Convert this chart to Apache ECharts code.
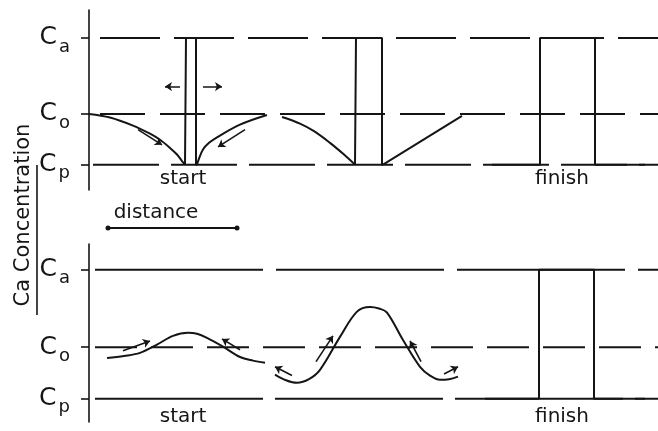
<!DOCTYPE html>
<html>
<head>
<meta charset="utf-8">
<script src="https://cdn.jsdelivr.net/npm/echarts@6/dist/echarts.min.js"></script>
<style>
  html, body { margin: 0; padding: 0; background: #fff; }
  #chart { width: 658px; height: 431px; }
</style>
</head>
<body>
<div id="chart"></div>
<script>
// levels on the concentration axis (Cp, Co, Ca)
var levelValues = [0, 1, 2.5];
var levelSubs = ['p', 'o', 'a'];

// upper panel: distance / concentration
var topLeftCurve = [[0, 1], [21, 0.93], [44, 0.77], [61, 0.61], [71, 0.49], [81, 0.33], [88, 0.2], [93, 0.07], [96, 0]];
var topPulse1 = [[96, 0], [97, 0], [97, 2.5], [107, 2.5], [107, 0], [108, 0]];
var topRightCurve = [[108, 0], [110, 0.12], [114, 0.3], [120, 0.43], [128, 0.54], [151, 0.79], [178, 0.98]];
var topMidCurve = [[193, 0.94], [211, 0.81], [225, 0.66], [241, 0.43], [255, 0.2], [266, 0]];
var topPulse2 = [[266, 0], [267, 0], [267, 2.5], [293, 2.5], [293, 0], [294, 0]];
var topRamp = [[294, 0], [373, 0.96]];
var topFinish = [[403, 0], [451, 0], [451, 2.5], [506, 2.5], [506, 0], [556, 0]];

// lower panel
var botCurveA = [[18, 0.79], [35, 0.83], [51, 0.89], [68, 1.05], [84, 1.22], [99, 1.28], [108, 1.26], [118, 1.18], [134, 1.01], [151, 0.81], [164, 0.74], [176, 0.7]];
var botCurveB = [[186, 0.47], [197, 0.36], [208, 0.31], [220, 0.38], [231, 0.56], [251, 1.2], [268, 1.69], [281, 1.78], [290, 1.75], [298, 1.67], [314, 1.14], [331, 0.62], [341, 0.45], [351, 0.37], [360, 0.38], [369, 0.43]];
var botFinish = [[396, 0], [450, 0], [450, 2.5], [505, 2.5], [505, 0], [556, 0]];

// small direction arrows [from, to]
var topArrows = [[[91, 1.54], [76, 1.54]], [[114, 1.54], [133, 1.54]], [[49, 0.69], [73, 0.39]], [[156, 0.69], [129, 0.35]]];
var botArrows = [[[34, 0.93], [61, 1.12]], [[151, 0.95], [133, 1.16]], [[203, 0.45], [186, 0.62]], [[227, 0.72], [244, 1.22]], [[332, 0.72], [321, 1.12]], [[355, 0.48], [369, 0.62]]];

// start / finish notes
var topNotes = [['start', 94, -0.28], ['finish', 473, -0.28]];
var botNotes = [['start', 94, -0.35], ['finish', 473, -0.35]];

var ink = '#151515';
var font = 'DejaVu Sans';
var xMax = 569;

var myChart = echarts.init(document.getElementById('chart'));

function curve(data, g, smooth) {
    return {
        type: 'line', xAxisIndex: g, yAxisIndex: g, data: data,
        smooth: smooth ? 0.35 : false, symbol: 'none', silent: true, clip: false,
        lineStyle: {color: ink, width: 2}
    };
}

function guide(level, g, start, dash, offset) {
    return {
        type: 'line', xAxisIndex: g, yAxisIndex: g, symbol: 'none', silent: true,
        data: [[start, level], [xMax, level]],
        lineStyle: {color: ink, width: 2, type: dash, dashOffset: offset || 0}
    };
}

function arrows(list, g) {
    return {
        type: 'lines', coordinateSystem: 'cartesian2d', xAxisIndex: g, yAxisIndex: g,
        symbol: ['none', 'arrow'], symbolSize: 7, silent: true,
        lineStyle: {color: ink, width: 1.6, opacity: 1, curveness: 0},
        data: list.map(function (a) { return {coords: a}; })
    };
}

function notes(list, g) {
    return {
        type: 'scatter', xAxisIndex: g, yAxisIndex: g, symbolSize: 0, silent: true,
        itemStyle: {opacity: 1},
        data: list.map(function (n) { return {name: n[0], value: [n[1], n[2]]}; }),
        label: {show: true, position: 'inside', formatter: '{b}', color: ink, opacity: 1, fontSize: 20, fontFamily: font}
    };
}

function yAxis(g, min, max) {
    return {
        type: 'value', gridIndex: g, min: min, max: max,
        axisLine: {show: true, lineStyle: {color: ink, width: 1.6}},
        splitLine: {show: false},
        axisTick: {show: true, customValues: levelValues, length: 8, lineStyle: {color: ink, width: 1.6}},
        axisLabel: {
            show: true, customValues: levelValues, margin: 19,
            formatter: function (v) {
                var i = levelValues.indexOf(v);
                return '{c|C}{s|' + levelSubs[i] + '}';
            },
            rich: {
                c: {fontSize: 25, fontFamily: font, color: ink},
                s: {fontSize: 18, fontFamily: font, color: ink, padding: [18, 0, 0, 2]}
            }
        }
    };
}

var option = {
    backgroundColor: '#fff',
    animation: false,
    grid: [
        {left: 89, top: 10, width: xMax, height: 180},
        {left: 89, top: 244, width: xMax, height: 178}
    ],
    xAxis: [
        {type: 'value', gridIndex: 0, min: 0, max: xMax, show: false},
        {type: 'value', gridIndex: 1, min: 0, max: xMax, show: false}
    ],
    yAxis: [yAxis(0, -0.5, 3.05), yAxis(1, -0.45, 3)],
    graphic: [
        {type: 'text', x: 24, y: 215, rotation: Math.PI / 2,
            style: {text: 'Ca Concentration', font: '21px "DejaVu Sans"', fill: ink, align: 'center', verticalAlign: 'middle'}},
        {type: 'line', shape: {x1: 37, y1: 165, x2: 37, y2: 315}, style: {stroke: ink, lineWidth: 1.6}},
        {type: 'text', x: 156, y: 213,
            style: {text: 'distance', font: '20px "DejaVu Sans"', fill: ink, align: 'center', verticalAlign: 'middle'}},
        {type: 'line', shape: {x1: 108, y1: 228, x2: 237, y2: 228}, style: {stroke: ink, lineWidth: 2}},
        {type: 'circle', shape: {cx: 108, cy: 228, r: 2.5}, style: {fill: ink}},
        {type: 'circle', shape: {cx: 237, cy: 228, r: 2.5}, style: {fill: ink}}
    ],
    series: [
        // upper panel
        guide(2.5, 0, 11, [60, 14], 0),
        guide(1, 0, 11, [45, 15], 0),
        guide(0, 0, 4, [66, 12], 0),
        curve(topLeftCurve, 0, true),
        curve(topPulse1, 0, false),
        curve(topRightCurve, 0, true),
        curve(topMidCurve, 0, true),
        curve(topPulse2, 0, false),
        curve(topRamp, 0, false),
        curve(topFinish, 0, false),
        arrows(topArrows, 0),
        notes(topNotes, 0),
        // lower panel
        guide(2.5, 1, 6, [168, 13], 0),
        guide(1, 1, 6, [42, 14], 0),
        guide(0, 1, 6, [168, 12], 0),
        curve(botCurveA, 1, true),
        curve(botCurveB, 1, true),
        curve(botFinish, 1, false),
        arrows(botArrows, 1),
        notes(botNotes, 1)
    ]
};

myChart.setOption(option);
window.addEventListener('resize', function () {
    myChart.resize();
});
</script>
</body>
</html>
